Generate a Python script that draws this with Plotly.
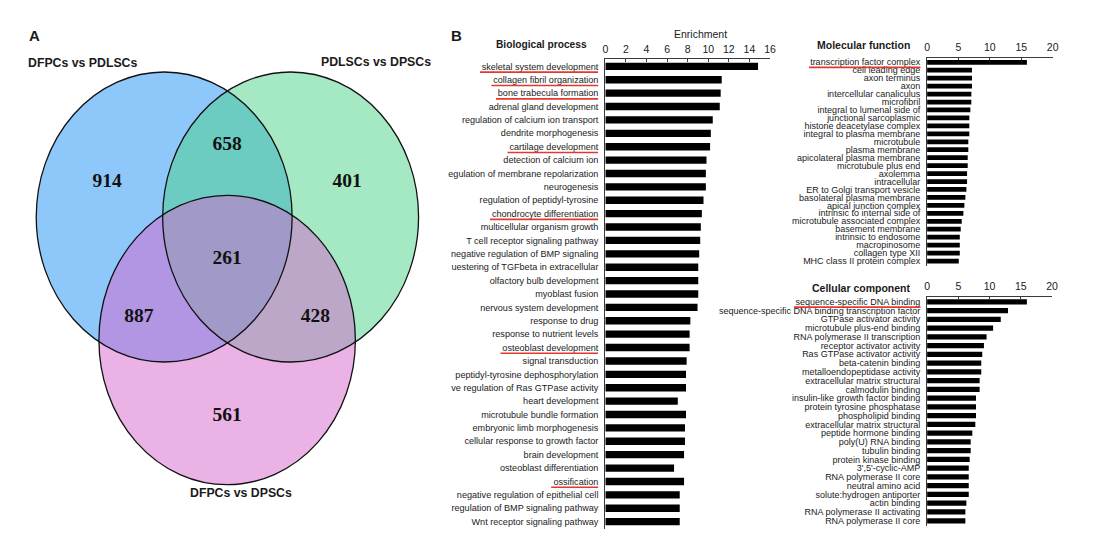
import plotly.graph_objects as go

W, H = 1100, 536

# ---------------- data ----------------
venn_set_names = ["DFPCs vs PDLSCs", "PDLSCs vs DPSCs", "DFPCs vs DPSCs"]
venn_region_names = ["DFPCs-PDLSCs only", "DFPCs-PDLSCs & PDLSCs-DPSCs", "PDLSCs-DPSCs only",
                     "all three", "DFPCs-PDLSCs & DFPCs-DPSCs", "PDLSCs-DPSCs & DFPCs-DPSCs",
                     "DFPCs-DPSCs only"]
venn_counts = [914, 658, 401, 261, 887, 428, 561]

bp_terms = [
    "skeletal system development", "collagen fibril organization", "bone trabecula formation",
    "adrenal gland development", "regulation of calcium ion transport", "dendrite morphogenesis",
    "cartilage development", "detection of calcium ion", "egulation of membrane repolarization",
    "neurogenesis", "regulation of peptidyl-tyrosine", "chondrocyte differentiation",
    "multicellular organism growth", "T cell receptor signaling pathway",
    "negative regulation of BMP signaling", "uestering of TGFbeta in extracellular",
    "olfactory bulb development", "myoblast fusion", "nervous system development",
    "response to drug", "response to nutrient levels", "osteoblast development",
    "signal transduction", "peptidyl-tyrosine dephosphorylation",
    "ve regulation of Ras GTPase activity", "heart development", "microtubule bundle formation",
    "embryonic limb morphogenesis", "cellular response to growth factor", "brain development",
    "osteoblast differentiation", "ossification", "negative regulation of epithelial cell",
    "regulation of BMP signaling pathway", "Wnt receptor signaling pathway",
]
bp_values = [14.84, 11.31, 11.21, 11.12, 10.44, 10.25, 10.18, 9.83, 9.77, 9.77,
             9.54, 9.38, 9.28, 9.22, 9.12, 9.03, 9.03, 9.03, 8.96, 8.26,
             8.19, 8.19, 7.90, 7.84, 7.84, 7.04, 7.84, 7.74, 7.74, 7.65,
             6.68, 7.65, 7.23, 7.23, 7.23]
bp_highlight = ["skeletal system development", "collagen fibril organization",
                "bone trabecula formation", "cartilage development",
                "chondrocyte differentiation", "osteoblast development", "ossification"]

mf_terms = [
    "transcription factor complex", "cell leading edge", "axon terminus", "axon",
    "intercellular canaliculus", "microfibril", "integral to lumenal side of",
    "junctional sarcoplasmic", "histone deacetylase complex", "integral to plasma membrane",
    "microtubule", "plasma membrane", "apicolateral plasma membrane", "microtubule plus end",
    "axolemma", "intracellular", "ER to Golgi transport vesicle", "basolateral plasma membrane",
    "apical junction complex", "intrinsic to internal side of", "microtubule associated complex",
    "basement membrane", "intrinsic to endosome", "macropinosome", "collagen type XII",
    "MHC class II protein complex",
]
mf_values = [15.9, 7.15, 7.15, 7.15, 7.05, 7.05, 6.89, 6.73, 6.73, 6.73,
             6.57, 6.57, 6.47, 6.47, 6.37, 6.37, 6.26, 6.10, 5.94, 5.78,
             5.52, 5.36, 5.21, 5.21, 5.21, 5.05]
mf_highlight = ["transcription factor complex"]

cc_terms = [
    "sequence-specific DNA binding", "sequence-specific DNA binding transcription factor",
    "GTPase activator activity", "microtubule plus-end binding", "RNA polymerase II transcription",
    "receptor activator activity", "Ras GTPase activator activity", "beta-catenin binding",
    "metalloendopeptidase activity", "extracellular matrix structural", "calmodulin binding",
    "insulin-like growth factor binding", "protein tyrosine phosphatase", "phospholipid binding",
    "extracellular matrix structural", "peptide hormone binding", "poly(U) RNA binding",
    "tubulin binding", "protein kinase binding", "3',5'-cyclic-AMP", "RNA polymerase II core",
    "neutral amino acid", "solute:hydrogen antiporter", "actin binding",
    "RNA polymerase II activating", "RNA polymerase II core",
]
cc_values = [15.97, 12.95, 11.79, 10.57, 9.52, 9.10, 8.83, 8.67, 8.67, 8.41,
             8.41, 7.83, 7.83, 7.83, 7.72, 7.24, 6.98, 6.98, 6.82, 6.67,
             6.67, 6.67, 6.67, 6.29, 6.13, 6.13]
cc_highlight = ["sequence-specific DNA binding"]

# ---------------- style / geometry (pixels) ----------------
SANS = "Liberation Sans, Arial, sans-serif"
SERIF = "Liberation Serif, Times New Roman, serif"
TXT = "#1a1a1a"
AX = "#3a3a3a"
RED = "#e5382c"

panels = {
    "bp": dict(xl=607.3, xr=773.3, top=59.0, sp=13.39, pad=0.55, xmax=16, dtick=2, lf=9.1, bw=0.55, ul=0.43),
    "mf": dict(xl=931.7, xr=1058.3, top=57.5, sp=7.95, pad=0.6, xmax=20, dtick=5, lf=9.0, bw=0.6, ul=0.64),
    "cc": dict(xl=931.7, xr=1057.7, top=296.5, sp=8.76, pad=0.6, xmax=20, dtick=5, lf=9.0, bw=0.6, ul=0.61),
}
series = {"bp": (bp_terms, bp_values, bp_highlight),
          "mf": (mf_terms, mf_values, mf_highlight),
          "cc": (cc_terms, cc_values, cc_highlight)}
axis_ids = {"bp": "", "mf": "2", "cc": "3"}
LABEL_RIGHT = {"bp": 599.2, "mf": 924.2, "cc": 924.2}

# Arial advance widths (per 1000 em) for underline length estimate
AW = {' ': 278, 'a': 556, 'b': 556, 'c': 500, 'd': 556, 'e': 556, 'f': 278, 'g': 556, 'h': 556,
      'i': 222, 'j': 222, 'k': 500, 'l': 222, 'm': 833, 'n': 556, 'o': 556, 'p': 556, 'q': 556,
      'r': 333, 's': 500, 't': 278, 'u': 556, 'v': 500, 'w': 722, 'x': 500, 'y': 500, 'z': 500,
      'D': 722, 'N': 722, 'A': 667, '-': 333}


def text_w(s, size):
    return sum(AW.get(ch, 556) for ch in s) / 1000.0 * size


fig = go.Figure()
layout = dict(width=W, height=H, margin=dict(l=0, r=0, t=0, b=0),
              paper_bgcolor="white", plot_bgcolor="rgba(0,0,0,0)", showlegend=False)
shapes = []
annotations = []

for key, g in panels.items():
    terms, vals, hl = series[key]
    n = len(terms)
    sid = axis_ids[key]
    bottom = g["top"] + (n - 1 + 2 * g["pad"]) * g["sp"]
    xa = "xaxis" + sid
    ya = "yaxis" + sid
    fig.add_trace(go.Bar(x=vals, y=list(range(n)), orientation="h",
                         marker=dict(color="black", line=dict(width=0)),
                         width=g["bw"], xaxis="x" + sid, yaxis="y" + sid,
                         hoverinfo="x+text", text=terms, textposition="none"))
    layout[xa] = dict(domain=[g["xl"] / W, g["xr"] / W], range=[0, g["xmax"]], dtick=g["dtick"],
                      side="top", anchor="y" + sid, showline=True, linecolor=AX, linewidth=1.2,
                      ticks="inside", ticklen=2.5, tickwidth=1, tickcolor=AX,
                      showgrid=False, zeroline=False, ticklabelstandoff=1,
                      tickfont=dict(family=SANS, size=10.5, color=TXT), fixedrange=True)
    layout[ya] = dict(domain=[1 - bottom / H, 1 - g["top"] / H],
                      range=[n - 1 + g["pad"], -g["pad"]],
                      tickvals=list(range(n)), ticktext=terms, ticks="",
                      anchor="x" + sid, showline=True, linecolor=AX, linewidth=1.2,
                      showgrid=False, zeroline=False, ticklabelstandoff=4,
                      tickfont=dict(family=SANS, size=g["lf"], color=TXT), fixedrange=True)
    # red underlines
    for i, t in enumerate(terms):
        if t in hl:
            w = text_w(t, g["lf"])
            shapes.append(dict(type="line", xref="x4", yref="y" + sid,
                               x0=LABEL_RIGHT[key] - w - 1.5, x1=LABEL_RIGHT[key] + 0.8,
                               y0=i + g["ul"], y1=i + g["ul"],
                               line=dict(color=RED, width=1.6), layer="above"))

# pixel canvas axis for the Venn diagram and free text
layout["xaxis4"] = dict(domain=[0, 1], range=[0, W], visible=False, fixedrange=True, anchor="y4")
layout["yaxis4"] = dict(domain=[0, 1], range=[H, 0], visible=False, fixedrange=True, anchor="x4")

venn_circles = [  # (cx, cy, rx, ry, rgba fill)
    (162.5, 217.0, 129.0, 145.0, "rgba(29,143,245,0.5)"),
    (290.0, 217.0, 129.0, 145.0, "rgba(73,209,137,0.5)"),
    (226.0, 340.0, 129.3, 144.7, "rgba(213,101,203,0.5)"),
]
for cx, cy, rx, ry, col in venn_circles:
    shapes.append(dict(type="circle", xref="x4", yref="y4", x0=cx - rx, x1=cx + rx,
                       y0=cy - ry, y1=cy + ry, fillcolor=col, line=dict(width=0), layer="below"))
for cx, cy, rx, ry, col in venn_circles:
    shapes.append(dict(type="circle", xref="x4", yref="y4", x0=cx - rx, x1=cx + rx,
                       y0=cy - ry, y1=cy + ry, fillcolor="rgba(0,0,0,0)",
                       line=dict(color="#111111", width=1.3), layer="below"))

venn_label_pos = [(105, 182), (226, 145), (347, 182), (226, 259), (137, 317), (315, 317), (226, 416)]
fig.add_trace(go.Scatter(x=[p[0] for p in venn_label_pos], y=[p[1] for p in venn_label_pos],
                         mode="text", text=["<b>%d</b>" % c for c in venn_counts],
                         textfont=dict(family=SERIF, size=19.5, color="#111111"),
                         textposition="middle center", hovertext=venn_region_names,
                         hoverinfo="text", xaxis="x4", yaxis="y4"))


def ann(text, x, y, size, bold=False, xanchor="center", family=SANS):
    annotations.append(dict(text=("<b>%s</b>" % text) if bold else text, x=x, y=y,
                            xref="x4", yref="y4", xanchor=xanchor, yanchor="middle",
                            showarrow=False, font=dict(family=family, size=size, color=TXT)))


set_label_pos = [(81, 63), (376, 62), (240, 493)]
for name, (x, y) in zip(venn_set_names, set_label_pos):
    ann(name, x, y, 12.3, bold=True)
ann("A", 32, 35, 15, bold=True)
ann("B", 457, 35, 15, bold=True)
ann("Biological process", 591, 44, 10.2, bold=True, xanchor="right")
ann("Enrichment", 703, 33.5, 10.5)
ann("Molecular function", 916, 45, 10.5, bold=True, xanchor="right")
ann("Cellular component", 917, 288, 10.5, bold=True, xanchor="right")

layout["shapes"] = shapes
layout["annotations"] = annotations
fig.update_layout(**layout)

fig.write_html("out.html", config={"displayModeBar": False},
               post_script="document.body.style.margin='0';")
